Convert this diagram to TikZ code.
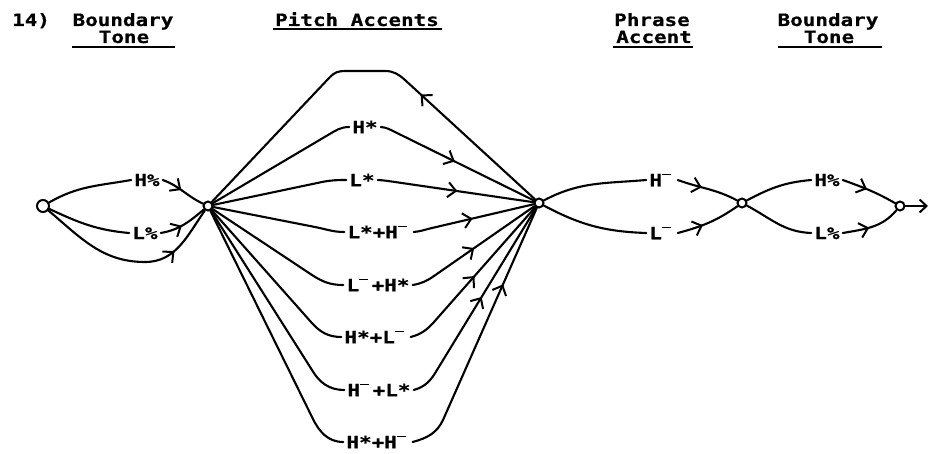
\documentclass[tikz,border=0pt]{standalone}
\usepackage{fontspec}
\newfontfamily\lgfont[FakeStretch=1.23, BoldFeatures={FakeBold=0.6}]{DejaVu Sans Mono}
\usetikzlibrary{arrows.meta,decorations.markings}
\newcommand\supbar{\makebox[0.74em][l]{\rule[0.64em]{0.55em}{0.1em}}}
\tikzset{
  ln/.style={line width=2.1pt, line cap=round, line join=round},
  ul/.style={line width=2pt},
  st/.style={circle, draw, line width=2pt, fill=white, inner sep=0pt, minimum size=9pt},
  lbl/.style={font={\lgfont\bfseries\fontsize{17}{20}\selectfont}, inner sep=3pt},
  hd/.style={font={\lgfont\bfseries\fontsize{17}{20}\selectfont}, inner sep=0pt, anchor=base},
  arr/.style={postaction={decorate}, decoration={markings, mark=at position #1 with {\arrow{Straight Barb[length=8pt,width=15pt,line width=2pt]}}}},
}
\begin{document}
\begin{tikzpicture}[x=1pt,y=1pt]
\useasboundingbox (0,0) rectangle (930,453);
% headers
\node[hd, anchor=base west] (num) at (12,427) {14)};
\node[hd] (bd1) at (123,427) {Boundary};
\node[hd] (tn1) at (124,410) {Tone};
\draw[ul] (72,406) -- (175,406);
\node[hd] (pa) at (357,427) {Pitch Accents};
\draw[ul] (273,424) -- (442,424);
\node[hd] (ph) at (652,427) {Phrase};
\node[hd] (ac) at (654,410) {Accent};
\draw[ul] (613,406) -- (693,406);
\node[hd] (bd2) at (828,427) {Boundary};
\node[hd] (tn2) at (829,410) {Tone};
\draw[ul] (778,406) -- (882,406);

% states
\node[st, minimum size=12pt] (n0) at (43,247) {};
\node[st] (n1) at (208,247) {};
\node[st] (n2) at (539,250) {};
\node[st] (n3) at (742,250) {};
\node[st] (n4) at (900,247) {};

% initial boundary tones
\node[lbl] (bh) at (147,273) {H\%};
\node[lbl] (bl) at (145,220) {L\%};
\coordinate (b0) at (145,191);
\draw[ln] (n0) to[out=30,in=190] (bh.west);
\draw[ln,arr=0.45] (bh.east) to[out=-20,in=155] (n1);
\draw[ln] (n0) to[out=-25,in=175] (bl.west);
\draw[ln,arr=0.45] (bl.east) to[out=10,in=-140] (n1);
\draw[ln,arr=0.74] (n0) to[out=-40,in=180] (b0) to[out=0,in=-125] (n1);

% pitch accents
\node[lbl] (p1) at (365,326) {H*};
\node[lbl] (p2) at (362,273) {L*};
\node[lbl] (p3) at (379,221) {L*+H\supbar};
\node[lbl] (p4) at (378,168) {L\supbar+H*};
\node[lbl] (p5) at (376,116) {H*+L\supbar};
\node[lbl] (p6) at (379,63) {H\supbar+L*};
\node[lbl] (p7) at (378,11) {H*+H\supbar};

% bend points
\coordinate (k1) at (328,318);
\coordinate (k2) at (322,271);
\coordinate (k3) at (315,226);
\coordinate (k4) at (312,178);
\coordinate (k5) at (311,131);
\coordinate (k6) at (312,83);
\coordinate (k7) at (312,36);
\coordinate (m1) at (395,321);
\coordinate (m2) at (395,271);
\coordinate (m3) at (432,225);
\coordinate (m4) at (434,177);
\coordinate (m5) at (434,131);
\coordinate (m6) at (437,83);
\coordinate (m7) at (443,33);

\draw[ln] (n1) -- (k1) to[out=30,in=180] (p1.west);
\draw[ln] (p1.east) to[out=-5,in=154] (m1);
\draw[ln,arr=0.43] (m1) -- (n2);
\draw[ln] (n1) -- (k2) to[out=11,in=180] (p2.west);
\draw[ln] (p2.east) to[out=-3,in=172] (m2);
\draw[ln,arr=0.45] (m2) -- (n2);
\draw[ln] (n1) -- (k3) to[out=-11,in=180] (p3.west);
\draw[ln] (p3.east) to[out=5,in=193] (m3);
\draw[ln,arr=0.4] (m3) -- (n2);
\draw[ln] (n1) -- (k4) to[out=-33,in=180] (p4.west);
\draw[ln] (p4.east) to[out=10,in=215] (m4);
\draw[ln,arr=0.4] (m4) -- (n2);
\draw[ln] (n1) -- (k5) to[out=-49,in=180] (p5.west);
\draw[ln] (p5.east) to[out=15,in=228] (m5);
\draw[ln,arr=0.4] (m5) -- (n2);
\draw[ln] (n1) -- (k6) to[out=-60,in=180] (p6.west);
\draw[ln] (p6.east) to[out=15,in=240] (m6);
\draw[ln,arr=0.45] (m6) -- (n2);
\draw[ln] (n1) -- (k7) to[out=-65,in=180] (p7.west);
\draw[ln] (p7.east) to[out=15,in=245] (m7);
\draw[ln,arr=0.64] (m7) -- (n2);

% loop back
\coordinate (c1) at (405,373);
\coordinate (c2) at (385,382);
\coordinate (c3) at (345,382);
\coordinate (c4) at (330,376);
\draw[ln,arr=0.88] (n2) -- (c1);
\draw[ln] (c1) to[out=138,in=0] (c2) -- (c3) to[out=180,in=47] (c4) -- (n1);

% phrase accents
\node[lbl] (qh) at (662,273) {H\supbar};
\node[lbl] (ql) at (662,220) {L\supbar};
\draw[ln] (n2) to[out=28,in=185] (qh.west);
\draw[ln,arr=0.4] (qh.east) to[out=-20,in=152] (n3);
\draw[ln] (n2) to[out=-28,in=178] (ql.west);
\draw[ln,arr=0.4] (ql.east) to[out=15,in=-145] (n3);

% final boundary tones
\node[lbl] (fh) at (827,273) {H\%};
\node[lbl] (fl) at (827,220) {L\%};
\draw[ln] (n3) to[out=28,in=185] (fh.west);
\draw[ln,arr=0.45] (fh.east) to[out=-20,in=150] (n4);
\draw[ln] (n3) to[out=-28,in=178] (fl.west);
\draw[ln,arr=0.45] (fl.east) to[out=10,in=-130] (n4);
\coordinate (out) at (928,247);
\draw[ln,-{Straight Barb[length=7pt,width=13pt,line width=2pt]}] (n4) -- (out);
\end{tikzpicture}
\end{document}
